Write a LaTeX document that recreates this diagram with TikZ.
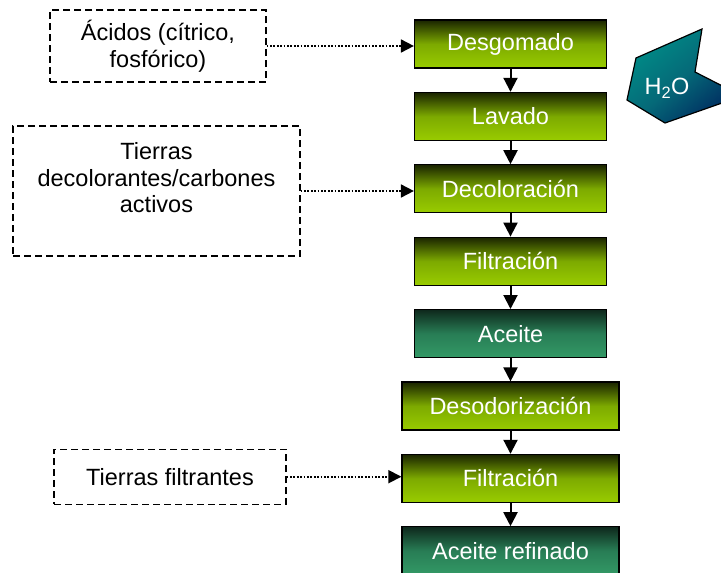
\documentclass[tikz,border=0pt]{standalone}
\usepackage{fontspec}
\setmainfont{Liberation Sans}
\usetikzlibrary{positioning,arrows.meta}

\definecolor{verdeosc}{RGB}{26,36,0}
\definecolor{verdemed}{RGB}{125,170,0}
\definecolor{verdecla}{RGB}{153,204,0}
\definecolor{tealosc}{RGB}{14,40,28}
\definecolor{tealmed}{RGB}{40,125,85}
\definecolor{tealcla}{RGB}{51,153,102}
\definecolor{aguasup}{RGB}{0,140,135}
\definecolor{aguamed}{RGB}{5,105,120}
\definecolor{aguainf}{RGB}{0,40,95}

\newcommand{\letra}{\fontsize{23.5}{26.5}\selectfont}

\tikzset{
  proceso/.style={draw=black, line width=1.2pt, minimum width=192pt, minimum height=48pt,
    text=white, font=\letra, top color=verdeosc, bottom color=verdecla, middle color=verdemed},
  ancho/.style={minimum width=217pt},
  producto/.style={proceso, top color=tealosc, bottom color=tealcla, middle color=tealmed},
  insumo/.style={draw=black, line width=1.2pt, dash pattern=on 7pt off 4pt, align=center, font=\letra},
  flujo/.style={-{Triangle[length=14pt,width=14pt]}, line width=2pt},
  aporte/.style={-{Triangle[length=13pt,width=13pt]}, line width=1.8pt, dash pattern=on 1.8pt off 1.6pt},
}

\begin{document}
\begin{tikzpicture}[x=1pt, y=-1pt, node distance=23.2pt]
  \useasboundingbox (0,0) rectangle (721,573);
  \clip (0,0) rectangle (721,573);
  % linea principal
  \node[proceso] (desgomado) at (510.5,44) {Desgomado};
  \node[proceso, below=of desgomado] (lavado) {Lavado};
  \node[proceso, below=of lavado] (decoloracion) {Decoloración};
  \node[proceso, below=of decoloracion] (filtracion1) {Filtración};
  \node[producto, below=of filtracion1] (aceite) {Aceite};
  \node[proceso, ancho, below=of aceite] (desodorizacion) {Desodorización};
  \node[proceso, ancho, below=of desodorizacion] (filtracion2) {Filtración};
  \node[producto, ancho, below=of filtracion2] (refinado) {Aceite refinado};
  \foreach \a/\b in {desgomado/lavado, lavado/decoloracion, decoloracion/filtracion1,
      filtracion1/aceite, aceite/desodorizacion, desodorizacion/filtracion2, filtracion2/refinado}
    \draw[flujo] (\a) -- (\b);
  % insumos
  \node[insumo, minimum width=216pt, minimum height=72pt] (acidos) at (158,46) {Ácidos (cítrico,\\fosfórico)};
  \node[insumo, minimum width=287pt, minimum height=130pt] (tierrasdec) at (156.5,191) {Tierras\\decolorantes/carbones\\activos\\\mbox{}};
  \node[insumo, minimum width=232pt, minimum height=55pt] (tierrasfil) at (170,476.7) {Tierras filtrantes};
  \draw[aporte] (acidos.east) -- (acidos.east -| desgomado.west);
  \draw[aporte] (tierrasdec.east) -- (tierrasdec.east -| decoloracion.west);
  \draw[aporte] (tierrasfil.east) -- (tierrasfil.east -| filtracion2.west);
  % agua
  \draw[line width=1.2pt, top color=aguasup, bottom color=aguainf, middle color=aguamed, shading angle=40]
    (636,58) -- (702,29) -- (695,72) -- (742,96) -- (665,123) -- (627,100) -- cycle;
  \node[text=white, font=\letra] (agua) at (667,88) {H\textsubscript{2}O};
\end{tikzpicture}
\end{document}
